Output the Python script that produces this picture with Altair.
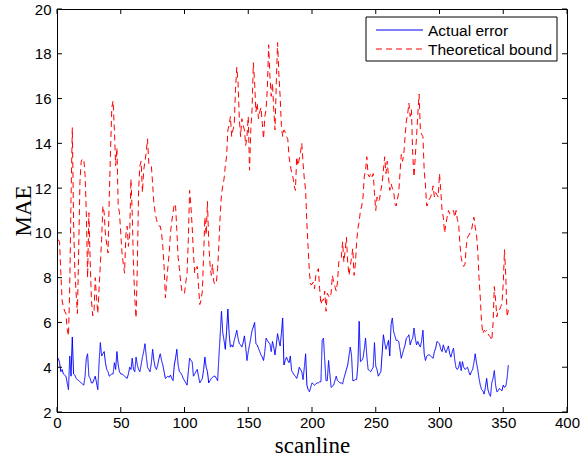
import altair as alt
import pandas as pd

# ---- data ----
series_names = ["Actual error", "Theoretical bound"]
series_colors = ["#0000ff", "#ff0000"]
series_dashes = [[1, 0], [6, 4]]
x_ticks = [0, 50, 100, 150, 200, 250, 300, 350, 400]
y_ticks = [2, 4, 6, 8, 10, 12, 14, 16, 18, 20]

actual_error = [
    4.4, 4.2, 3.8, 3.9, 3.7, 3.65, 3.6, 3.3, 3.0, 4.5,
    3.6, 5.35, 3.7, 3.65, 3.5, 3.45, 3.4, 3.35, 3.3, 3.25,
    3.2, 3.6, 4.4, 4.6, 3.6, 3.5, 3.3, 3.3, 3.45, 3.6,
    3.3, 3.0, 4.2, 5.1, 4.5, 4.6, 4.7, 4.2, 3.9, 3.8,
    3.6, 3.65, 3.7, 3.7, 4.2, 3.9, 4.7, 4.1, 3.8, 3.7,
    3.7, 3.65, 3.6, 3.55, 3.5, 3.7, 4.0, 3.9, 4.4, 3.9,
    3.8, 4.45, 4.1, 3.9, 3.8, 4.1, 4.45, 4.7, 5.05, 4.5,
    4.0, 3.9, 3.8, 4.2, 4.8, 4.3, 4.0, 3.9, 4.1, 4.4,
    4.6, 4.3, 4.1, 3.8, 3.5, 3.55, 3.6, 3.55, 3.65, 3.5,
    3.4, 4.1, 4.4, 4.8, 4.1, 3.8, 3.75, 3.65, 3.5, 3.4,
    3.3, 3.2, 3.8, 4.4, 4.3, 4.25, 3.6, 3.7, 3.8, 3.9,
    3.6, 3.3, 3.4, 3.5, 3.9, 4.45, 4.0, 3.8, 3.3, 3.4,
    3.5, 3.55, 3.6, 3.6, 3.5, 3.4, 4.5, 5.45, 6.5, 5.55,
    5.2, 4.8, 5.6, 6.6, 5.5, 4.9, 5.0, 4.9, 5.2, 5.4,
    5.65, 5.3, 5.05, 5.0, 4.9, 5.1, 5.4, 4.9, 4.3, 4.7,
    5.0, 5.3, 5.65, 5.8, 6.0, 5.05, 5.0, 4.85, 4.7, 4.55,
    4.45, 4.3, 4.7, 5.3, 5.2, 5.1, 5.05, 4.7, 5.15, 4.9,
    4.55, 5.0, 5.5, 5.2, 4.95, 5.5, 6.2, 4.1, 4.3, 4.45,
    4.3, 4.2, 4.5, 3.85, 3.75, 3.65, 3.6, 3.5, 3.7, 4.0,
    3.9, 3.8, 3.45, 4.0, 4.6, 3.2, 3.0, 2.9, 3.1, 3.3,
    3.25, 3.2, 3.25, 3.3, 3.3, 3.35, 3.35, 5.2, 5.3, 4.3,
    3.4, 3.4, 4.3, 3.7, 3.1, 3.15, 3.2, 3.4, 3.6, 3.4,
    3.35, 3.3, 3.3, 3.25, 3.5, 3.7, 3.9, 4.1, 4.5, 4.9,
    4.55, 3.4, 3.4, 3.45, 3.45, 4.1, 6.05, 4.25, 4.3, 4.4,
    4.8, 5.3, 4.5, 3.9, 3.85, 3.8, 3.9, 4.0, 5.1, 4.05,
    3.9, 3.6, 3.7, 3.8, 4.6, 5.45, 5.1, 4.8, 5.0, 5.2,
    4.5, 5.9, 6.2, 5.6, 5.4, 5.2, 5.2, 5.15, 4.8, 4.4,
    4.6, 4.8, 5.0, 5.3, 5.35, 5.45, 5.0, 5.2, 5.3, 5.75,
    5.3, 5.0, 5.15, 5.0, 4.9, 5.2, 5.65, 4.6, 4.3, 4.5,
    4.55, 4.55, 4.5, 4.45, 4.4, 4.7, 4.85, 5.15, 5.1, 5.05,
    4.8, 4.7, 5.0, 4.8, 4.65, 4.8, 4.95, 4.6, 4.45, 4.7,
    4.85, 4.3, 3.97, 3.9, 4.0, 4.25, 3.85, 4.25, 4.0, 3.9,
    3.95, 4.0, 3.8, 3.65, 3.8, 3.9, 4.2, 4.6, 4.2, 3.9,
    3.5, 3.2, 3.0, 2.95, 2.8, 3.1, 3.5, 3.0, 2.8, 2.7,
    3.3, 3.5, 3.85, 3.2, 2.9, 2.95, 3.05, 3.0, 2.95, 3.2,
    3.1, 3.15, 3.5, 4.1,
]

theoretical_bound = [
    9.7, 9.6, 8.2, 7.0, 6.7, 6.5, 6.4, 5.7, 5.4, 7.6,
    11.5, 14.7, 10.5, 8.3, 7.3, 6.4, 9.2, 12.3, 13.2, 13.3,
    13.3, 12.6, 10.9, 8.0, 10.9, 8.8, 7.0, 6.3, 6.4, 8.0,
    7.1, 6.4, 7.5, 8.6, 9.7, 11.2, 10.9, 9.9, 9.5, 9.1,
    11.6, 13.7, 15.6, 15.9, 14.6, 13.0, 13.8, 11.2, 10.9, 10.0,
    9.1, 8.6, 8.2, 9.9, 10.3, 9.4, 9.9, 12.4, 10.9, 8.5,
    7.1, 6.2, 8.5, 11.9, 13.0, 13.2, 11.8, 12.8, 13.2, 13.6,
    14.2, 13.1, 13.0, 13.0, 12.2, 11.3, 10.9, 10.6, 10.4, 10.3,
    10.3, 10.0, 9.4, 8.5, 7.1, 7.8, 8.5, 9.1, 10.0, 10.5,
    10.9, 11.3, 11.2, 10.1, 8.9, 8.4, 7.8, 7.4, 7.3, 7.3,
    7.8, 8.2, 9.7, 11.9, 11.2, 10.3, 9.1, 8.2, 8.4, 8.5,
    7.6, 6.8, 7.0, 7.4, 9.0, 10.7, 9.9, 11.4, 9.6, 8.6,
    8.1, 8.6, 7.8, 7.7, 7.8, 8.4, 9.5, 10.8, 11.7, 12.1,
    12.4, 13.0, 13.4, 14.6, 14.8, 15.2, 14.3, 14.6, 14.8, 16.4,
    17.4, 16.7, 15.1, 14.3, 15.1, 14.8, 14.6, 13.9, 14.3, 15.2,
    12.8, 14.6, 15.5, 17.6, 16.7, 15.4, 15.8, 15.1, 15.4, 15.6,
    14.9, 14.2, 15.2, 15.5, 16.5, 18.4, 17.0, 16.1, 16.7, 15.5,
    14.6, 16.7, 18.5, 17.1, 16.1, 14.8, 14.3, 14.6, 14.5, 14.3,
    14.2, 13.4, 13.0, 12.7, 12.5, 12.1, 11.9, 13.4, 13.0, 13.3,
    13.6, 14.0, 13.1, 12.4, 11.9, 10.4, 9.3, 8.2, 7.7, 7.7,
    7.8, 7.5, 8.1, 8.3, 8.4, 7.5, 6.8, 7.0, 7.0, 7.4,
    6.5, 7.3, 7.2, 7.1, 7.3, 8.1, 7.8, 7.6, 7.4, 7.8,
    8.7, 8.8, 8.9, 9.6, 8.7, 9.2, 9.8, 8.7, 8.1, 8.5,
    8.9, 9.3, 8.1, 8.6, 9.6, 10.2, 10.5, 11.0, 11.2, 11.6,
    12.5, 12.8, 13.4, 12.6, 12.5, 12.65, 12.5, 12.65, 11.8, 11.0,
    11.6, 11.4, 11.5, 11.9, 12.2, 12.8, 13.4, 12.65, 13.2, 12.5,
    11.9, 12.2, 12.0, 11.9, 11.3, 11.2, 11.5, 11.8, 12.65, 13.5,
    13.2, 13.5, 14.3, 15.0, 15.3, 15.8, 15.2, 15.5, 13.5, 12.5,
    13.4, 14.3, 15.3, 16.2, 14.6, 14.4, 14.3, 12.8, 12.1, 11.2,
    11.3, 11.5, 11.6, 11.8, 12.1, 11.6, 11.8, 11.7, 11.6, 12.65,
    11.9, 11.0, 10.7, 10.0, 10.4, 10.7, 11.0, 10.85, 10.9, 11.0,
    11.0, 10.7, 11.0, 10.6, 10.4, 9.5, 8.9, 8.6, 8.5, 8.6,
    9.4, 9.8, 9.9, 10.0, 10.1, 10.4, 10.7, 10.25, 9.95, 9.2,
    8.0, 7.1, 6.0, 5.5, 5.65, 5.6, 5.65, 5.5, 5.4, 5.35,
    5.2, 5.95, 7.6, 7.0, 6.25, 6.55, 6.55, 6.7, 6.85, 7.75,
    9.25, 8.05, 6.25, 6.55,
]

# ---- table built from the arrays ----
df = pd.concat([
    pd.DataFrame({"scanline": list(range(1, len(actual_error) + 1)),
                  "MAE": actual_error, "series": series_names[0]}),
    pd.DataFrame({"scanline": list(range(1, len(theoretical_bound) + 1)),
                  "MAE": theoretical_bound, "series": series_names[1]}),
], ignore_index=True)
xt = pd.DataFrame({"scanline": x_ticks})
yt = pd.DataFrame({"MAE": y_ticks})

W, H = 510, 403
TL = 5  # inward tick length

xscale = alt.Scale(domain=[0, 400], nice=False)
yscale = alt.Scale(domain=[2, 20], nice=False, zero=False)

lines = alt.Chart(df).mark_line(strokeWidth=1, clip=True).encode(
    x=alt.X("scanline:Q", scale=xscale,
            axis=alt.Axis(values=x_ticks, title="scanline", format="d", labelFlush=False,
                          titleX=W / 2, titleY=40.5, titleBaseline="alphabetic")),
    y=alt.Y("MAE:Q", scale=yscale,
            axis=alt.Axis(values=y_ticks, title="MAE", format="d", labelFlush=False,
                          titleX=-34, titleY=H / 2, titleBaseline="middle",
                          titleAngle=270)),
    color=alt.Color("series:N", scale=alt.Scale(domain=series_names, range=series_colors), legend=None),
    strokeDash=alt.StrokeDash("series:N",
                              scale=alt.Scale(domain=series_names, range=series_dashes),
                              legend=None),
)

tick_style = dict(color="black", strokeWidth=1)
bottom_ticks = alt.Chart(xt).mark_rule(**tick_style).encode(
    x=alt.X("scanline:Q", scale=xscale), y=alt.value(H), y2=alt.value(H - TL))
top_ticks = alt.Chart(xt).mark_rule(**tick_style).encode(
    x=alt.X("scanline:Q", scale=xscale), y=alt.value(0), y2=alt.value(TL))
left_ticks = alt.Chart(yt).mark_rule(**tick_style).encode(
    y=alt.Y("MAE:Q", scale=yscale), x=alt.value(0), x2=alt.value(TL))
right_ticks = alt.Chart(yt).mark_rule(**tick_style).encode(
    y=alt.Y("MAE:Q", scale=yscale), x=alt.value(W - TL), x2=alt.value(W))

# ---- legend box (drawn in pixel space of the plot area) ----
LX0, LX1, LY0, LY1 = 309, 500, 8, 52
row_y = [21, 40]
leg_df = [pd.DataFrame({"series": [name]}) for name in series_names]

legend_box = alt.Chart(leg_df[0]).mark_rect(
    fill="white", stroke="black", strokeWidth=1).encode(
    x=alt.value(LX0), x2=alt.value(LX1), y=alt.value(LY0), y2=alt.value(LY1))
legend_layers = [legend_box]
for i in range(len(series_names)):
    legend_layers.append(
        alt.Chart(leg_df[i]).mark_rule(
            color=series_colors[i], strokeWidth=1, strokeDash=series_dashes[i]).encode(
            x=alt.value(319), x2=alt.value(366), y=alt.value(row_y[i]), y2=alt.value(row_y[i]))
    )
    legend_layers.append(
        alt.Chart(leg_df[i]).mark_text(
            align="left", baseline="middle", font="Liberation Sans", fontSize=15.5,
            color="black").encode(
            x=alt.value(371), y=alt.value(row_y[i] + 1), text="series:N")
    )

chart = alt.layer(lines, bottom_ticks, top_ticks, left_ticks, right_ticks,
                  *legend_layers).properties(
    width=W, height=H,
    autosize=alt.AutoSizeParams(type="none"),
    padding={"left": 57, "top": 9, "right": 14, "bottom": 45},
    background="white",
).configure_view(
    stroke="black", strokeWidth=1,
).configure_axis(
    grid=False, ticks=False, domain=True, domainColor="black", domainWidth=1,
    labelFont="Liberation Sans", labelFontSize=15, labelColor="black",
    titleFont="Liberation Serif", titleFontSize=23, titleFontWeight="normal",
    titleColor="black",
).configure_axisX(labelPadding=3).configure_axisY(labelPadding=6)

chart.save("out.html", embed_options={"renderer": "svg", "actions": False})
